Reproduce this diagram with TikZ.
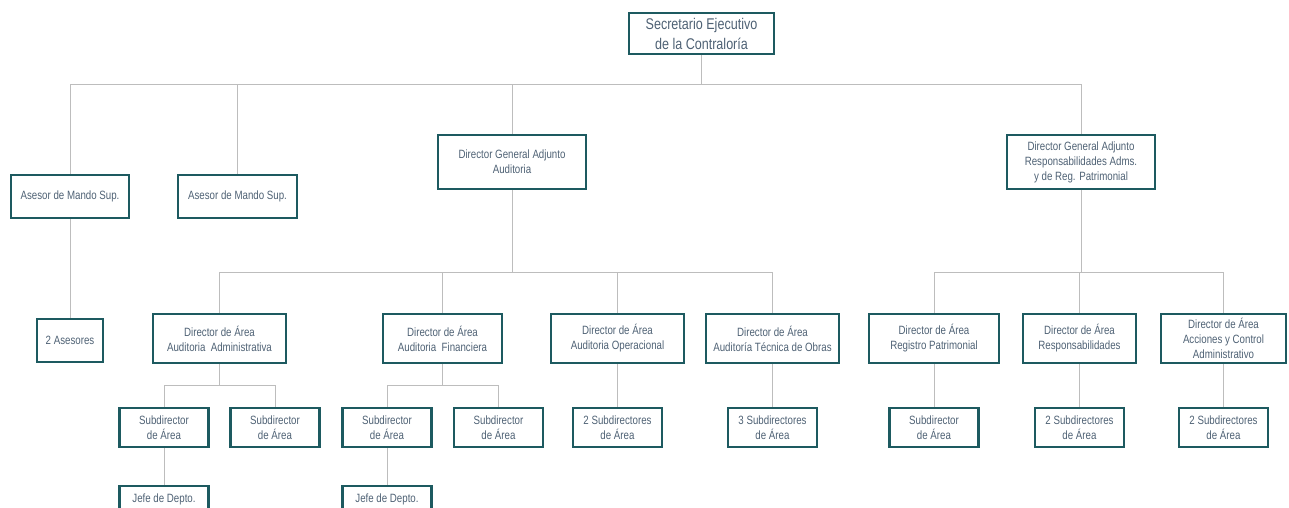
\documentclass[tikz,border=0pt]{standalone}
\usepackage{fontspec}
\setmainfont{Liberation Sans}[FakeStretch=0.81]
\definecolor{borde}{HTML}{1D5A60}
\definecolor{texto}{HTML}{4E6174}
\definecolor{gris}{HTML}{BDBDBD}

\begin{document}
\begin{tikzpicture}[x=1pt,y=-1pt,
    caja/.style={draw=borde,line width=2.2pt,text=texto,align=center,inner sep=0pt,
        font=\fontsize{12}{15}\selectfont},
    sub/.style={caja,minimum width=89pt,minimum height=39pt},
    dir/.style={caja,minimum height=49pt},
    conector/.style={draw=gris,line width=1pt}]
    \useasboundingbox (0,0) rectangle (1289,507);
    \clip (0,0) rectangle (1289,507);
    % Nivel superior
    \node[caja,minimum width=145pt,minimum height=41pt,font=\fontsize{15.5}{20}\selectfont]
        (sec) at (701.5,33.5) {Secretario Ejecutivo\\de la Contraloría};
    \node[caja,minimum width=118pt,minimum height=43pt] (ase1) at (70,196.5) {Asesor de Mando Sup.};
    \node[caja,minimum width=119pt,minimum height=43pt] (ase2) at (237.5,196.5) {Asesor de Mando Sup.};
    \node[caja,minimum width=148pt,minimum height=54pt] (dgaAud) at (512,162) {Director General Adjunto\\Auditoria};
    \node[caja,minimum width=148pt,minimum height=54pt] (dgaRes) at (1081,162)
        {Director General Adjunto\\Responsabilidades Adms.\\y de Reg. Patrimonial};
    % Directores de área
    \node[caja,minimum width=66pt,minimum height=43pt] (aseDos) at (70,340.5) {2 Asesores};
    \node[dir,minimum width=133pt] (daAdm) at (219.5,338.5) {Director de Área\\Auditoria \ Administrativa};
    \node[dir,minimum width=119pt] (daFin) at (442.5,338.5) {Director de Área\\Auditoria \ Financiera};
    \node[dir,minimum width=133pt] (daOpe) at (617.5,338.5) {Director de Área\\Auditoria Operacional};
    \node[dir,minimum width=133pt] (daTec) at (772.5,338.5) {Director de Área\\Auditoría Técnica de Obras};
    \node[dir,minimum width=130pt] (daReg) at (934,338.5) {Director de Área\\Registro Patrimonial};
    \node[dir,minimum width=113pt] (daRes) at (1079.5,338.5) {Director de Área\\Responsabilidades};
    \node[dir,minimum width=125pt] (daAcc) at (1223.5,338.5) {Director de Área\\Acciones y Control\\Administrativo};
    % Subdirectores
    \node[sub] (subA1) at (164,427.5) {Subdirector\\de Área};
    \node[sub] (subA2) at (275,427.5) {Subdirector\\de Área};
    \node[sub] (subF1) at (387,427.5) {Subdirector\\de Área};
    \node[sub] (subF2) at (498.5,427.5) {Subdirector\\de Área};
    \node[sub] (subOpe) at (617.5,427.5) {2 Subdirectores\\de Área};
    \node[sub] (subTec) at (772.5,427.5) {3 Subdirectores\\de Área};
    \node[sub] (subReg) at (934,427.5) {Subdirector\\de Área};
    \node[sub] (subRes) at (1079.5,427.5) {2 Subdirectores\\de Área};
    \node[sub] (subAcc) at (1223.5,427.5) {2 Subdirectores\\de Área};
    \node[sub,minimum height=26pt] (jefA) at (164,499) {Jefe de Depto.};
    \node[sub,minimum height=26pt] (jefF) at (387,499) {Jefe de Depto.};
    % Líneas de mando
    \coordinate (b0) at (701.5,84);
    \coordinate (b1) at (512,272);
    \coordinate (b2) at (1081,272);
    \coordinate (b3) at (219.5,385);
    \coordinate (b4) at (442.5,385);
    \draw[conector] (sec) -- (b0);
    \foreach \n in {ase1,ase2,dgaAud,dgaRes}
        \draw[conector] (\n.north) |- (b0);
    \draw[conector] (dgaAud) -- (b1);
    \foreach \n in {daAdm,daFin,daOpe,daTec}
        \draw[conector] (\n.north) |- (b1);
    \draw[conector] (dgaRes) -- (b2);
    \foreach \n in {daReg,daRes,daAcc}
        \draw[conector] (\n.north) |- (b2);
    \draw[conector] (daAdm) -- (b3);
    \foreach \n in {subA1,subA2}
        \draw[conector] (\n.north) |- (b3);
    \draw[conector] (daFin) -- (b4);
    \foreach \n in {subF1,subF2}
        \draw[conector] (\n.north) |- (b4);
    \foreach \a/\b in {ase1/aseDos,daOpe/subOpe,daTec/subTec,daReg/subReg,daRes/subRes,daAcc/subAcc,subA1/jefA,subF1/jefF}
        \draw[conector] (\a) -- (\b);
\end{tikzpicture}
\end{document}
